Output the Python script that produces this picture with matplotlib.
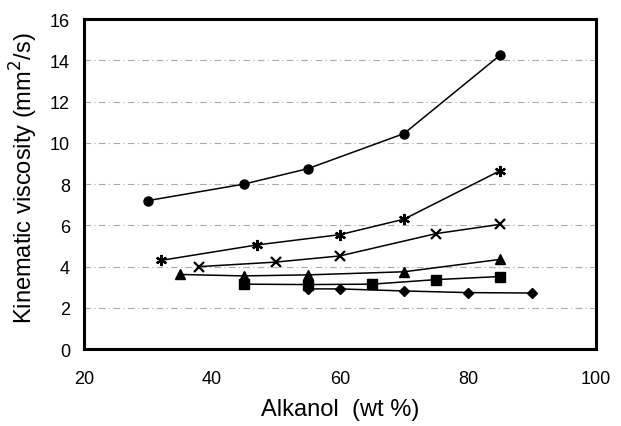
import matplotlib
matplotlib.use('Agg')
from matplotlib import pyplot as plt

# Alkanol content (wt %) and kinematic viscosity (mm2/s) for each series
x_circle = [30, 45, 55, 70, 85]
y_circle = [7.2, 8.0, 8.75, 10.45, 14.25]

x_star = [32, 47, 60, 70, 85]
y_star = [4.3, 5.05, 5.55, 6.3, 8.65]

x_cross = [38, 50, 60, 75, 85]
y_cross = [4.0, 4.22, 4.52, 5.6, 6.05]

x_tri = [35, 45, 55, 70, 85]
y_tri = [3.62, 3.55, 3.6, 3.75, 4.35]

x_sq = [45, 55, 65, 75, 85]
y_sq = [3.15, 3.13, 3.15, 3.37, 3.52]

x_dia = [55, 60, 70, 80, 90]
y_dia = [2.92, 2.92, 2.82, 2.74, 2.72]

xticks = [20, 40, 60, 80, 100]
yticks = [0, 2, 4, 6, 8, 10, 12, 14, 16]

plt.rcParams['font.family'] = ['Liberation Sans', 'DejaVu Sans']

fig = plt.figure(figsize=(6.21, 4.27), dpi=100)
ax = fig.add_axes([0.135, 0.180, 0.825, 0.773])

for y in yticks[1:-1]:
  ax.axhline(y, color='#aaaaaa', lw=0.8, ls=(0, (6, 3, 1, 3)), zorder=0)

ax.plot(x_circle, y_circle, '-k', marker='o', ms=6.5, lw=1.1)
ax.plot(x_star, y_star, '-k', marker=(6, 2, 0), ms=8, mew=1.6, lw=1.1)
ax.plot(x_cross, y_cross, '-k', marker='x', ms=7, mew=1.6, lw=1.1)
ax.plot(x_tri, y_tri, '-k', marker='^', ms=7, lw=1.1)
ax.plot(x_sq, y_sq, '-k', marker='s', ms=6.5, lw=1.1)
ax.plot(x_dia, y_dia, '-k', marker='D', ms=5, lw=1.1)

ax.set_xlim(20, 100)
ax.set_ylim(0, 16)
ax.set_xticks(xticks)
ax.set_yticks(yticks)
ax.tick_params(length=0, labelsize=13)
ax.tick_params(axis='x', pad=15)
ax.tick_params(axis='y', pad=10)
for s in ax.spines.values():
  s.set_linewidth(2.2)

ax.set_xlabel('Alkanol  (wt %)', fontsize=17, labelpad=8)
ax.set_ylabel('Kinematic viscosity (mm$^2$/s)', fontsize=17)
ax.yaxis.set_label_coords(-0.085, 0.52)

fig.savefig('out.png', dpi=100)
